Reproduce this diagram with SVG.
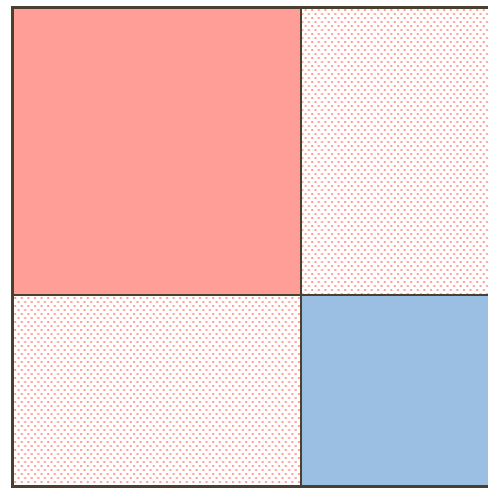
<svg xmlns="http://www.w3.org/2000/svg" width="488" height="488" viewBox="0 0 488 488">
<defs>
<pattern id="dots" x="0" y="0" width="6.6" height="8" patternUnits="userSpaceOnUse">
<rect x="1" y="1" width="2" height="2" fill="#ff9a94"/>
<rect x="4.3" y="5" width="2" height="2" fill="#ff9a94"/>
</pattern>
<style>
.cell{stroke:#4a4030;stroke-width:2}
</style>
</defs>
<rect width="488" height="488" fill="#ffffff"/>
<g id="red"><rect class="cell" x="12.5" y="7.5" width="288.5" height="287.5" fill="#ff9d97"/></g>
<g id="topright"><rect class="cell" x="301" y="7.5" width="190" height="287.5" fill="url(#dots)"/></g>
<g id="bottomleft"><rect class="cell" x="12.5" y="295" width="288.5" height="191.5" fill="url(#dots)"/></g>
<g id="blue"><rect class="cell" x="301" y="295" width="190" height="191.5" fill="#9bbfe2"/></g>
<rect x="12.5" y="7.5" width="480" height="479" fill="none" stroke="#4a4030" stroke-width="3"/>
</svg>
